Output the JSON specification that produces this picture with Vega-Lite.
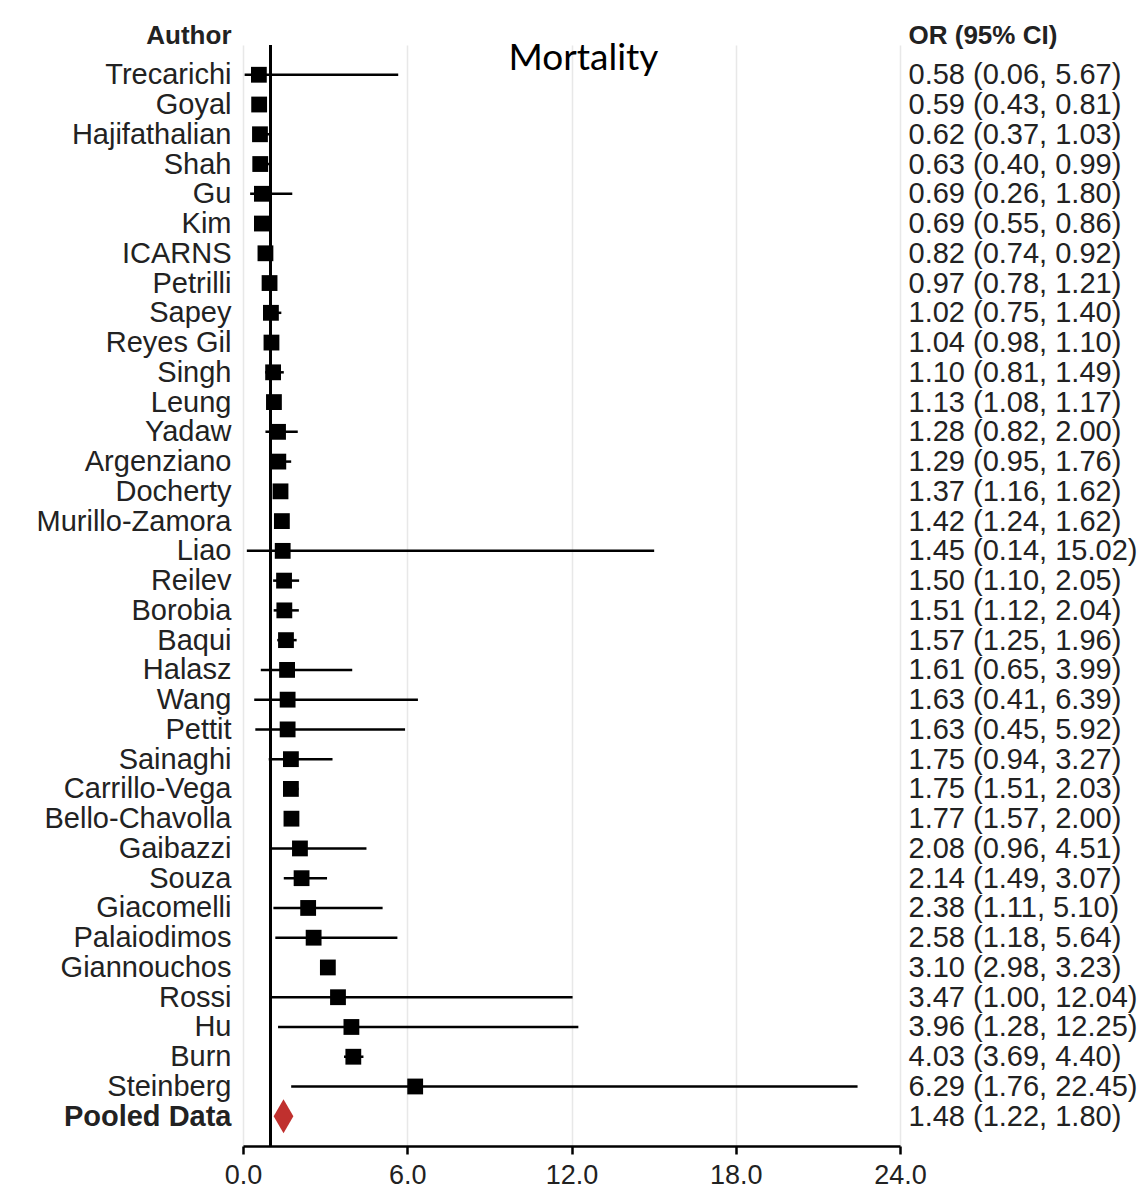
{
  "$schema": "https://vega.github.io/schema/vega-lite/v6.json",
  "autosize": {"type": "none"},
  "width": 657,
  "height": 1101,
  "padding": {"left": 243, "top": 45, "right": 245, "bottom": 54},
  "background": "white",
  "title": {
    "text": "Mortality",
    "font": "Lato",
    "fontSize": 37,
    "fontWeight": "normal",
    "color": "black",
    "anchor": "middle",
    "dx": 12,
    "offset": -56
  },
  "config": {
    "view": {"stroke": null},
    "font": "Liberation Sans"
  },
  "data": {
    "values": [
      {"row": "Trecarichi|0.58 (0.06, 5.67)", "type": "study", "or": 0.58, "lo": 0.06, "hi": 5.67},
      {"row": "Goyal|0.59 (0.43, 0.81)", "type": "study", "or": 0.59, "lo": 0.43, "hi": 0.81},
      {"row": "Hajifathalian|0.62 (0.37, 1.03)", "type": "study", "or": 0.62, "lo": 0.37, "hi": 1.03},
      {"row": "Shah|0.63 (0.40, 0.99)", "type": "study", "or": 0.63, "lo": 0.40, "hi": 0.99},
      {"row": "Gu|0.69 (0.26, 1.80)", "type": "study", "or": 0.69, "lo": 0.26, "hi": 1.80},
      {"row": "Kim|0.69 (0.55, 0.86)", "type": "study", "or": 0.69, "lo": 0.55, "hi": 0.86},
      {"row": "ICARNS|0.82 (0.74, 0.92)", "type": "study", "or": 0.82, "lo": 0.74, "hi": 0.92},
      {"row": "Petrilli|0.97 (0.78, 1.21)", "type": "study", "or": 0.97, "lo": 0.78, "hi": 1.21},
      {"row": "Sapey|1.02 (0.75, 1.40)", "type": "study", "or": 1.02, "lo": 0.75, "hi": 1.40},
      {"row": "Reyes Gil|1.04 (0.98, 1.10)", "type": "study", "or": 1.04, "lo": 0.98, "hi": 1.10},
      {"row": "Singh|1.10 (0.81, 1.49)", "type": "study", "or": 1.10, "lo": 0.81, "hi": 1.49},
      {"row": "Leung|1.13 (1.08, 1.17)", "type": "study", "or": 1.13, "lo": 1.08, "hi": 1.17},
      {"row": "Yadaw|1.28 (0.82, 2.00)", "type": "study", "or": 1.28, "lo": 0.82, "hi": 2.00},
      {"row": "Argenziano|1.29 (0.95, 1.76)", "type": "study", "or": 1.29, "lo": 0.95, "hi": 1.76},
      {"row": "Docherty|1.37 (1.16, 1.62)", "type": "study", "or": 1.37, "lo": 1.16, "hi": 1.62},
      {"row": "Murillo-Zamora|1.42 (1.24, 1.62)", "type": "study", "or": 1.42, "lo": 1.24, "hi": 1.62},
      {"row": "Liao|1.45 (0.14, 15.02)", "type": "study", "or": 1.45, "lo": 0.14, "hi": 15.02},
      {"row": "Reilev|1.50 (1.10, 2.05)", "type": "study", "or": 1.50, "lo": 1.10, "hi": 2.05},
      {"row": "Borobia|1.51 (1.12, 2.04)", "type": "study", "or": 1.51, "lo": 1.12, "hi": 2.04},
      {"row": "Baqui|1.57 (1.25, 1.96)", "type": "study", "or": 1.57, "lo": 1.25, "hi": 1.96},
      {"row": "Halasz|1.61 (0.65, 3.99)", "type": "study", "or": 1.61, "lo": 0.65, "hi": 3.99},
      {"row": "Wang|1.63 (0.41, 6.39)", "type": "study", "or": 1.63, "lo": 0.41, "hi": 6.39},
      {"row": "Pettit|1.63 (0.45, 5.92)", "type": "study", "or": 1.63, "lo": 0.45, "hi": 5.92},
      {"row": "Sainaghi|1.75 (0.94, 3.27)", "type": "study", "or": 1.75, "lo": 0.94, "hi": 3.27},
      {"row": "Carrillo-Vega|1.75 (1.51, 2.03)", "type": "study", "or": 1.75, "lo": 1.51, "hi": 2.03},
      {"row": "Bello-Chavolla|1.77 (1.57, 2.00)", "type": "study", "or": 1.77, "lo": 1.57, "hi": 2.00},
      {"row": "Gaibazzi|2.08 (0.96, 4.51)", "type": "study", "or": 2.08, "lo": 0.96, "hi": 4.51},
      {"row": "Souza|2.14 (1.49, 3.07)", "type": "study", "or": 2.14, "lo": 1.49, "hi": 3.07},
      {"row": "Giacomelli|2.38 (1.11, 5.10)", "type": "study", "or": 2.38, "lo": 1.11, "hi": 5.10},
      {"row": "Palaiodimos|2.58 (1.18, 5.64)", "type": "study", "or": 2.58, "lo": 1.18, "hi": 5.64},
      {"row": "Giannouchos|3.10 (2.98, 3.23)", "type": "study", "or": 3.10, "lo": 2.98, "hi": 3.23},
      {"row": "Rossi|3.47 (1.00, 12.04)", "type": "study", "or": 3.47, "lo": 1.00, "hi": 12.04},
      {"row": "Hu|3.96 (1.28, 12.25)", "type": "study", "or": 3.96, "lo": 1.28, "hi": 12.25},
      {"row": "Burn|4.03 (3.69, 4.40)", "type": "study", "or": 4.03, "lo": 3.69, "hi": 4.40},
      {"row": "Steinberg|6.29 (1.76, 22.45)", "type": "study", "or": 6.29, "lo": 1.76, "hi": 22.45},
      {"row": "Pooled Data|1.48 (1.22, 1.80)", "type": "pooled", "or": 1.48, "lo": 1.22, "hi": 1.80}
    ]
  },
  "resolve": {"scale": {"y": "shared"}, "axis": {"y": "independent"}},
  "layer": [
    {
      "mark": {"type": "rule", "color": "black", "strokeWidth": 2},
      "encoding": {
        "x": {
          "datum": 1,
          "type": "quantitative",
          "scale": {"domain": [0, 24], "nice": false, "zero": false},
          "axis": {
            "title": null,
            "values": [0, 6, 12, 18, 24],
            "format": ".1f",
            "grid": true,
            "gridColor": "#e8e8e8",
            "gridWidth": 1.5,
            "domainColor": "black",
            "domainWidth": 2.5,
            "tickColor": "black",
            "tickWidth": 2.5,
            "tickSize": 8,
            "labelFlush": false,
            "labelFontSize": 27,
            "labelColor": "#222222",
            "labelPadding": 8,
            "labelFont": "Liberation Sans"
          }
        }
      }
    },
    {
      "transform": [{"filter": "datum.type == 'study'"}],
      "mark": {"type": "rule", "color": "black", "strokeWidth": 2.5},
      "encoding": {
        "y": {
          "field": "row",
          "type": "ordinal",
          "sort": null,
          "scale": {"type": "point", "padding": 1.05},
          "axis": {
            "orient": "left",
            "domain": false,
            "ticks": false,
            "labelExpr": "split(datum.value, '|')[0]",
            "labelFontSize": 29,
            "labelColor": "#222222",
            "labelPadding": 12,
            "labelLimit": 400,
            "labelFont": "Liberation Sans",
            "labelFontWeight": {"condition": {"test": "indexof(datum.value, 'Pooled') == 0", "value": "bold"}, "value": "normal"},
            "title": "Author",
            "titleAngle": 0,
            "titleAlign": "right",
            "titleBaseline": "middle",
            "titleX": -12,
            "titleY": -10,
            "titleFontSize": 26,
            "titleFontWeight": "bold",
            "titleColor": "#222222",
            "titleFont": "Liberation Sans"
          }
        },
        "x": {"field": "lo", "type": "quantitative"},
        "x2": {"field": "hi"}
      }
    },
    {
      "transform": [{"filter": "datum.type == 'study'"}],
      "mark": {"type": "point", "shape": "square", "filled": true, "color": "black", "opacity": 1, "size": 250},
      "encoding": {
        "y": {"field": "row", "type": "ordinal", "sort": null, "axis": null},
        "x": {"field": "or", "type": "quantitative"}
      }
    },
    {
      "transform": [{"filter": "datum.type == 'pooled'"}],
      "mark": {"type": "point", "shape": "M0,-1L0.58,0L0,1L-0.58,0Z", "filled": true, "color": "#c0302e", "opacity": 1, "size": 1156},
      "encoding": {
        "y": {"field": "row", "type": "ordinal", "sort": null, "axis": null},
        "x": {"field": "or", "type": "quantitative"}
      }
    },
    {
      "mark": {"type": "point", "opacity": 0},
      "encoding": {
        "y": {
          "field": "row",
          "type": "ordinal",
          "sort": null,
          "axis": {
            "orient": "right",
            "domain": false,
            "ticks": false,
            "labelExpr": "split(datum.value, '|')[1]",
            "labelFontSize": 29,
            "labelColor": "#222222",
            "labelPadding": 8,
            "labelLimit": 400,
            "labelFont": "Liberation Sans",
            "title": "OR (95% CI)",
            "titleAngle": 0,
            "titleAlign": "left",
            "titleBaseline": "middle",
            "titleX": 8,
            "titleY": -10,
            "titleFontSize": 26,
            "titleFontWeight": "bold",
            "titleColor": "#222222",
            "titleFont": "Liberation Sans"
          }
        },
        "x": {"field": "or", "type": "quantitative"}
      }
    }
  ]
}
